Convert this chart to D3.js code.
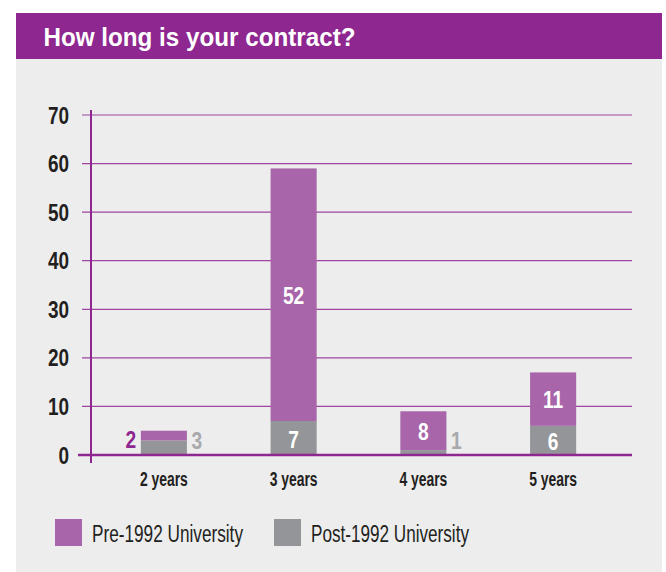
<!DOCTYPE html>
<html><head><meta charset="utf-8">
<script src="https://cdn.jsdelivr.net/npm/d3@7"></script>
<style>
body{margin:0;background:#fff;}
svg text{font-family:"Liberation Sans",Arial,sans-serif;}
</style></head>
<body><svg id="c" width="666" height="572"></svg>
<script>
const categories = ["2 years","3 years","4 years","5 years"];
const pre1992 = [2, 52, 8, 11];
const post1992 = [3, 7, 1, 6];
const yTicks = [0,10,20,30,40,50,60,70];
const seriesNames = ["Pre-1992 University","Post-1992 University"];
const title = "How long is your contract?";

const svg = d3.select("#c");
const C = {purpleDark:"#8e278f", purple:"#a865a9", gray:"#939598", grayText:"#a7a9ac", text:"#231f20", bg:"#ededed", grid:"#9e46a0"};

function condense(sel, f){
  sel.each(function(){
    const L = this.getComputedTextLength();
    d3.select(this).attr("textLength", L*f).attr("lengthAdjust","spacingAndGlyphs");
  });
}
function fitTo(sel, w){
  sel.attr("textLength", w).attr("lengthAdjust","spacingAndGlyphs");
}

svg.append("rect").attr("x",16).attr("y",59).attr("width",646).attr("height",513).attr("fill",C.bg);
svg.append("rect").attr("x",16).attr("y",13).attr("width",646).attr("height",46).attr("fill",C.purpleDark);
svg.append("text").attr("x",43.5).attr("y",46).attr("fill","#fff").attr("font-weight","bold").attr("font-size",26).text(title)
  .call(fitTo, 312);

const y = d3.scaleLinear().domain([0,70]).range([455,115]);
const x = d3.scaleBand().domain(categories).range([99,618]).paddingInner(0.645).paddingOuter(0.3225);

// gridlines
svg.append("g").selectAll("line").data(yTicks.filter(d=>d>0)).join("line")
  .attr("x1",82).attr("x2",632).attr("y1",d=>y(d)).attr("y2",d=>y(d))
  .attr("stroke",C.grid).attr("stroke-width",1.2);

// y tick labels
svg.append("g").selectAll("text").data(yTicks).join("text")
  .attr("x",69).attr("y",d=>y(d)+8.5).attr("text-anchor","end")
  .attr("font-weight","bold").attr("font-size",24).attr("fill",C.text).text(d=>d)
  .call(condense, 0.79);

const data = categories.map((c,i)=>({c, pre:pre1992[i], post:post1992[i]}));

const g = svg.append("g");
g.selectAll("rect.post").data(data).join("rect").attr("class","post")
  .attr("x",d=>x(d.c)).attr("width",x.bandwidth())
  .attr("y",d=>y(d.post)).attr("height",d=>y(0)-y(d.post)).attr("fill",C.gray);
g.selectAll("rect.pre").data(data).join("rect").attr("class","pre")
  .attr("x",d=>x(d.c)).attr("width",x.bandwidth())
  .attr("y",d=>y(d.post+d.pre)).attr("height",d=>y(d.post)-y(d.post+d.pre)).attr("fill",C.purple);

// axis lines
svg.append("line").attr("x1",91).attr("x2",91).attr("y1",110).attr("y2",463).attr("stroke",C.purpleDark).attr("stroke-width",2);
svg.append("line").attr("x1",78).attr("x2",632).attr("y1",y(0)).attr("y2",y(0)).attr("stroke",C.purpleDark).attr("stroke-width",2.5);

// value labels
const lab = svg.append("g").attr("font-weight","bold").attr("font-size",24).attr("text-anchor","middle");
data.forEach(d=>{
  const cx = x(d.c)+x.bandwidth()/2;
  const hPre = y(d.post)-y(d.post+d.pre), hPost = y(0)-y(d.post);
  if (hPre > 22) {
    lab.append("text").attr("x",cx).attr("y",(y(d.post)+y(d.post+d.pre))/2+9).attr("fill","#fff").text(d.pre);
  } else {
    lab.append("text").attr("x",x(d.c)-10).attr("y",y(0)-7).attr("fill",C.purpleDark).text(d.pre);
  }
  if (hPost > 22) {
    lab.append("text").attr("x",cx).attr("y",(y(0)+y(d.post))/2+9.5).attr("fill","#fff").text(d.post);
  } else {
    lab.append("text").attr("x",x(d.c)+x.bandwidth()+10).attr("y",y(0)-6).attr("fill",C.grayText).text(d.post);
  }
});
lab.selectAll("text").call(condense, 0.8);

// x labels
svg.append("g").selectAll("text").data(categories).join("text")
  .attr("x",d=>x(d)+x.bandwidth()/2).attr("y",486).attr("text-anchor","middle")
  .attr("font-weight","bold").attr("font-size",20).attr("fill",C.text).text(d=>d)
  .call(fitTo, 48);

// legend
const leg = svg.append("g");
[[55,C.purple,151],[274,C.gray,158]].forEach(([lx,col,w],i)=>{
  leg.append("rect").attr("x",lx).attr("y",519).attr("width",27).attr("height",27).attr("fill",col);
  leg.append("text").attr("x",lx+37).attr("y",542).attr("font-size",23).attr("fill",C.text).text(seriesNames[i])
    .call(fitTo, w);
});
</script></body></html>
